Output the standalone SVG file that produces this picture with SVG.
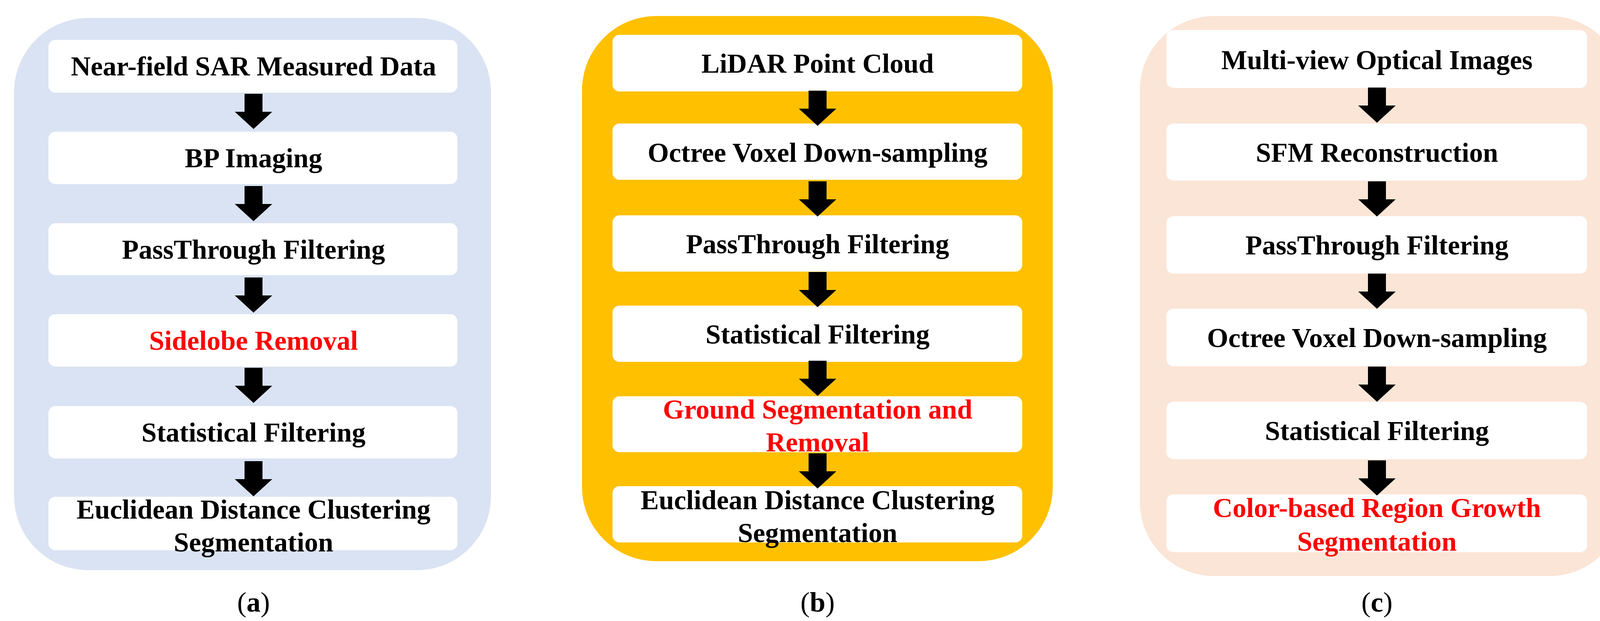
<svg xmlns="http://www.w3.org/2000/svg" width="4203" height="1589" viewBox="0 0 4203 1589">
<style>
.box{fill:#fff}
text{font-family:"Liberation Serif","Times New Roman",serif;font-weight:bold;font-size:70px;text-anchor:middle;fill:#000}
.red{fill:#FF0000}
.cap{font-weight:normal;font-size:72px}
.arr{fill:#000}
</style>
<defs>
<path id="ar" d="M-23,0 h46 v46 h25 L0,90 L-48,46 h25 Z"/>
</defs>
<rect x="36" y="46" width="1221" height="1413" rx="190" fill="#DAE3F3"/>
<rect x="1490" y="41" width="1205" height="1395" rx="190" fill="#FFC000"/>
<rect x="2918" y="41" width="1239" height="1433" rx="190" fill="#FBE5D6"/>
<g id="a1"><rect class="box" x="124" y="102" width="1047" height="135" rx="18"/><text x="649" y="193">Near-field SAR Measured Data</text></g>
<g id="a2"><rect class="box" x="124" y="337" width="1047" height="134" rx="18"/><text x="649" y="428">BP Imaging</text></g>
<g id="a3"><rect class="box" x="124" y="571" width="1047" height="133" rx="18"/><text x="649" y="662">PassThrough Filtering</text></g>
<g id="a4"><rect class="box" x="124" y="804" width="1047" height="134" rx="18"/><text class="red" x="649" y="895">Sidelobe Removal</text></g>
<g id="a5"><rect class="box" x="124" y="1039" width="1047" height="134" rx="18"/><text x="649" y="1130">Statistical Filtering</text></g>
<g id="a6"><rect class="box" x="124" y="1271" width="1047" height="137" rx="18"/><text x="649" y="1327">Euclidean Distance Clustering</text><text x="649" y="1411">Segmentation</text></g>
<text class="cap" x="649" y="1565">(<tspan font-weight="bold">a</tspan>)</text>
<g id="b1"><rect class="box" x="1568" y="89" width="1049" height="145" rx="18"/><text x="2093" y="186">LiDAR Point Cloud</text></g>
<g id="b2"><rect class="box" x="1568" y="316" width="1049" height="144" rx="18"/><text x="2093" y="414">Octree Voxel Down-sampling</text></g>
<g id="b3"><rect class="box" x="1568" y="551" width="1049" height="144" rx="18"/><text x="2093" y="648">PassThrough Filtering</text></g>
<g id="b4"><rect class="box" x="1568" y="782" width="1049" height="144" rx="18"/><text x="2093" y="879">Statistical Filtering</text></g>
<g id="b5"><rect class="box" x="1568" y="1014" width="1049" height="143" rx="18"/><text class="red" x="2093" y="1071">Ground Segmentation and</text><text class="red" x="2093" y="1155">Removal</text></g>
<g id="b6"><rect class="box" x="1568" y="1244" width="1049" height="144" rx="18"/><text x="2093" y="1303">Euclidean Distance Clustering</text><text x="2093" y="1387">Segmentation</text></g>
<text class="cap" x="2093" y="1565">(<tspan font-weight="bold">b</tspan>)</text>
<g id="c1"><rect class="box" x="2986" y="77" width="1077" height="148" rx="18"/><text x="3525" y="177">Multi-view Optical Images</text></g>
<g id="c2"><rect class="box" x="2986" y="316" width="1077" height="146" rx="18"/><text x="3525" y="414">SFM Reconstruction</text></g>
<g id="c3"><rect class="box" x="2986" y="553" width="1077" height="147" rx="18"/><text x="3525" y="651">PassThrough Filtering</text></g>
<g id="c4"><rect class="box" x="2986" y="790" width="1077" height="147" rx="18"/><text x="3525" y="888">Octree Voxel Down-sampling</text></g>
<g id="c5"><rect class="box" x="2986" y="1028" width="1077" height="147" rx="18"/><text x="3525" y="1126">Statistical Filtering</text></g>
<g id="c6"><rect class="box" x="2986" y="1265" width="1077" height="148" rx="18"/><text class="red" x="3525" y="1323">Color-based Region Growth</text><text class="red" x="3525" y="1409">Segmentation</text></g>
<text class="cap" x="3525" y="1565">(<tspan font-weight="bold">c</tspan>)</text>
<g id="connectors" class="arr">
<use href="#ar" x="649" y="240"/><use href="#ar" x="649" y="476"/><use href="#ar" x="649" y="710"/><use href="#ar" x="649" y="941"/><use href="#ar" x="649" y="1180"/>
<use href="#ar" x="2093" y="232"/><use href="#ar" x="2093" y="464"/><use href="#ar" x="2093" y="696"/><use href="#ar" x="2093" y="923"/><use href="#ar" x="2093" y="1160"/>
<use href="#ar" x="3525" y="224"/><use href="#ar" x="3525" y="464"/><use href="#ar" x="3525" y="700"/><use href="#ar" x="3525" y="938"/><use href="#ar" x="3525" y="1178"/>
</g>
</svg>
